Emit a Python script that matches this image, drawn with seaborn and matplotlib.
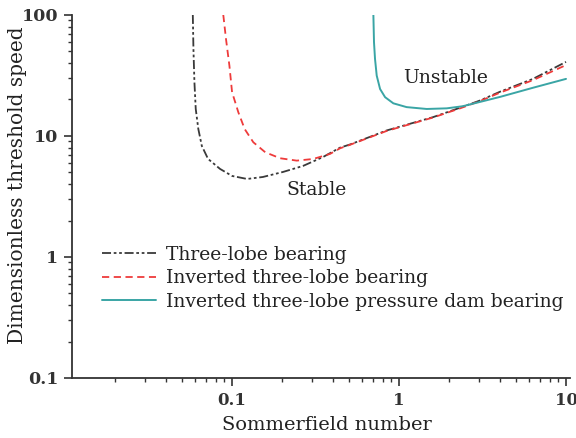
import numpy as np
import pandas as pd
import seaborn as sns
import matplotlib.pyplot as plt
from matplotlib.ticker import LogLocator, FixedLocator, FixedFormatter, NullFormatter

# Data
x_three = [0.0582, 0.0587, 0.0595, 0.0606, 0.0628, 0.0659, 0.0718, 0.0847, 0.100, 0.123, 0.153, 0.202,
           0.266, 0.351, 0.443, 0.509, 0.844, 1.60, 2.32, 3.05, 4.03, 6.34, 10.0]
y_three = [100, 52.4, 27.9, 16.7, 11.4, 8.27, 6.46, 5.34, 4.67, 4.41, 4.58, 5.04,
           5.65, 6.70, 8.0, 8.5, 11.1, 14.3, 17.1, 19.6, 23.2, 29.6, 40.9]

x_inv = [0.0886, 0.092, 0.0964, 0.100, 0.109, 0.119, 0.134, 0.158, 0.194, 0.244, 0.306, 0.386,
         0.443, 0.509, 0.844, 1.60, 2.32, 3.05, 4.03, 6.34, 10.0]
y_inv = [100, 63, 38.1, 23.0, 15.7, 11.4, 8.87, 7.33, 6.54, 6.25, 6.45, 7.1,
         7.9, 8.45, 11.0, 14.2, 16.9, 19.4, 22.8, 28.9, 38.5]

x_dam = [0.702, 0.708, 0.718, 0.735, 0.770, 0.825, 0.924, 1.11, 1.465, 1.93, 2.41, 4.02, 6.34, 10.0]
y_dam = [100, 59.5, 43.3, 31.5, 24.4, 20.9, 18.6, 17.3, 16.7, 16.9, 17.6, 21.0, 25.0, 29.6]

labels = ["Three-lobe bearing", "Inverted three-lobe bearing",
          "Inverted three-lobe pressure dam bearing"]

df = pd.concat([
    pd.DataFrame({"S": x_three, "N": y_three, "type": labels[0]}),
    pd.DataFrame({"S": x_inv, "N": y_inv, "type": labels[1]}),
    pd.DataFrame({"S": x_dam, "N": y_dam, "type": labels[2]}),
])

sns.set_style("ticks")
plt.rcParams['font.family'] = ['DejaVu Serif']
plt.rcParams['lines.solid_joinstyle'] = 'round'
plt.rcParams['lines.dash_joinstyle'] = 'round'

fig = plt.figure(figsize=(5.76, 4.38), dpi=100)
ax = fig.add_axes([0.125, 0.137, 0.865, 0.829])

colors = {labels[0]: "#3a3a3a", labels[1]: "#ee3b3b", labels[2]: "#3aa5a5"}
styles = {labels[0]: (0, (5, 1.5, 1.5, 1.5, 1.5, 1.5)), labels[1]: (0, (4, 2.5)), labels[2]: "-"}
for lab in labels:
    sub = df[df["type"] == lab]
    sns.lineplot(data=sub, x="S", y="N", ax=ax, color=colors[lab], label=lab,
                 sort=False, estimator=None, linewidth=1.3 if lab != labels[2] else 1.4)
    ax.lines[-1].set_linestyle(styles[lab])

ax.set_xscale("log")
ax.set_yscale("log")
ax.set_xlim(0.011, 10.6)
ax.set_ylim(0.1, 100)

ax.xaxis.set_major_locator(FixedLocator([0.1, 1, 10]))
ax.xaxis.set_major_formatter(FixedFormatter(["0.1", "1", "10"]))
ax.xaxis.set_minor_locator(LogLocator(base=10, subs=np.arange(2, 10)))
ax.xaxis.set_minor_formatter(NullFormatter())
ax.yaxis.set_major_locator(FixedLocator([0.1, 1, 10, 100]))
ax.yaxis.set_major_formatter(FixedFormatter(["0.1", "1", "10", "100"]))
ax.yaxis.set_minor_locator(LogLocator(base=10, subs=np.arange(2, 10)))
ax.yaxis.set_minor_formatter(NullFormatter())

for s in ["top", "right"]:
    ax.spines[s].set_visible(False)
for s in ["left", "bottom"]:
    ax.spines[s].set_linewidth(1.3)
    ax.spines[s].set_color("#333333")

ax.tick_params(which="major", length=6, width=1.2, color="#333333", labelsize=12.5, pad=4)
ax.tick_params(axis="x", which="major", labelsize=12)
ax.tick_params(which="minor", length=3, width=1.0, color="#333333")
for t in ax.get_xticklabels() + ax.get_yticklabels():
    t.set_fontweight("bold")
    t.set_color("#333333")

ax.set_xlabel("Sommerfield number", fontsize=14, color="#222222")
ax.set_ylabel("Dimensionless threshold speed", fontsize=14.5, color="#222222")
ax.xaxis.set_label_coords(0.512, -0.105)
ax.yaxis.set_label_coords(-0.11, 0.53)
ax.yaxis.label.set_va("center")
ax.xaxis.label.set_va("top")

leg = ax.legend(loc="upper left", bbox_to_anchor=(0.045, 0.385), frameon=False,
                fontsize=13.5, handlelength=2.9, handletextpad=0.5, labelspacing=0.3,
                borderaxespad=0)
for t in leg.get_texts():
    t.set_color("#222222")

fig.text(446 / 576, 1 - 78 / 438, "Unstable", fontsize=13.5, color="#222222", ha="center", va="center")
fig.text(317 / 576, 1 - 190 / 438, "Stable", fontsize=13.5, color="#222222", ha="center", va="center")

fig.savefig("out.png", dpi=100)
